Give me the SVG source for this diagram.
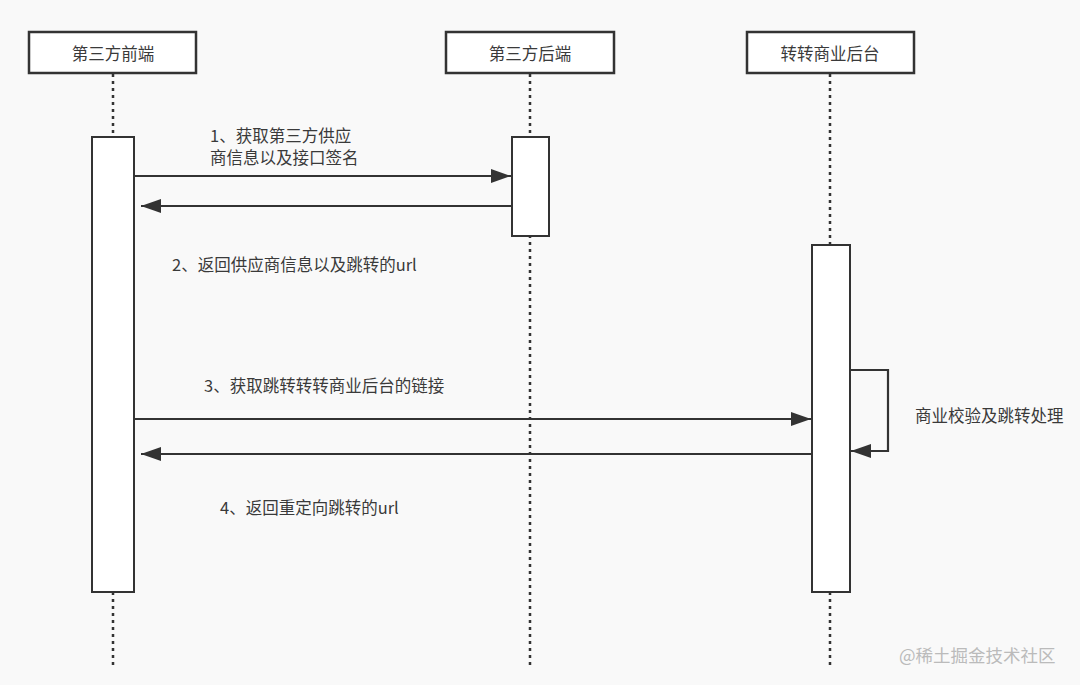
<svg xmlns="http://www.w3.org/2000/svg" width="1080" height="685" viewBox="0 0 1080 685">
<style>
.bg{fill:#f9f9f9}
.hd{fill:#fff;stroke:#333;stroke-width:2.5}
.act{fill:#fff;stroke:#333;stroke-width:2}
.life{stroke:#333;stroke-width:2.5;stroke-dasharray:3 4;fill:none}
.msg{stroke:#333;stroke-width:2.2;fill:none}
.t{font-family:"Microsoft YaHei","Noto Sans CJK SC",sans-serif;font-size:16.5px;fill:#3a3a3a}
.wm{font-family:"Noto Sans CJK SC",sans-serif;font-size:17.5px;fill:#bbb}
</style>
<defs>
<marker id="ahb" viewBox="0 0 20 14" refX="20" refY="7" markerWidth="20" markerHeight="14" markerUnits="userSpaceOnUse" orient="auto">
<path d="M0,0 L20,7 L0,14 Z" fill="#333"/>
</marker>
</defs>
<rect class="bg" x="0" y="0" width="1080" height="685"/>
<g id="lifelines">
<line class="life" x1="113" y1="74" x2="113" y2="665"/>
<line class="life" x1="530" y1="74" x2="530" y2="665"/>
<line class="life" x1="830" y1="74" x2="830" y2="665"/>
</g>
<g id="node-frontend">
<rect class="hd" x="29" y="32" width="167" height="41"/>
<text class="t" x="113" y="60" text-anchor="middle">第三方前端</text>
<rect class="act" x="92" y="137" width="42" height="455"/>
</g>
<g id="node-backend">
<rect class="hd" x="446" y="32" width="168" height="41"/>
<text class="t" x="530" y="60" text-anchor="middle">第三方后端</text>
<rect class="act" x="512" y="137" width="37" height="99"/>
</g>
<g id="node-zz">
<rect class="hd" x="747" y="32" width="167" height="41"/>
<text class="t" x="830" y="60" text-anchor="middle">转转商业后台</text>
<rect class="act" x="812" y="245" width="38" height="347"/>
</g>
<g id="connectors">
<line class="msg" x1="135" y1="176" x2="511" y2="176" marker-end="url(#ahb)"/>
<line class="msg" x1="511" y1="206" x2="141" y2="206" marker-end="url(#ahb)"/>
<line class="msg" x1="135" y1="419" x2="811" y2="419" marker-end="url(#ahb)"/>
<line class="msg" x1="811" y1="454" x2="141" y2="454" marker-end="url(#ahb)"/>
<polyline class="msg" points="851,370 888,370 888,451 851,451" marker-end="url(#ahb)"/>
</g>
<g id="labels">
<text class="t" x="210" y="142">1、获取第三方供应</text>
<text class="t" x="210" y="164">商信息以及接口签名</text>
<text class="t" x="172" y="271">2、返回供应商信息以及跳转的url</text>
<text class="t" x="204" y="392">3、获取跳转转转商业后台的链接</text>
<text class="t" x="915" y="422">商业校验及跳转处理</text>
<text class="t" x="220" y="514">4、返回重定向跳转的url</text>
</g>
<text class="wm" x="899" y="662">@稀土掘金技术社区</text>
</svg>
